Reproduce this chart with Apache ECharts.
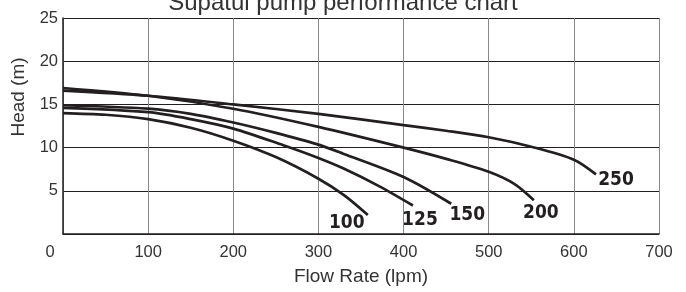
<!DOCTYPE html>
<html>
<head>
<meta charset="utf-8">
<script src="https://cdn.jsdelivr.net/npm/echarts@6/dist/echarts.min.js"></script>
<style>
  html, body { margin: 0; padding: 0; background: #fff; }
  #chart { width: 686px; height: 292px; }
</style>
</head>
<body>
<div id="chart"></div>
<script>
// pump curves: [flow lpm, head m]
var pump100 = [[0, 14.0], [50, 13.8], [100, 13.3], [150, 12.3], [200, 10.8], [250, 8.9], [300, 6.4], [330, 4.5], [358, 2.2]];
var pump125 = [[0, 14.6], [100, 14.1], [150, 13.3], [200, 12.2], [258, 10.3], [300, 8.8], [329, 7.6], [370, 5.6], [411, 3.3]];
var pump150 = [[0, 14.9], [100, 14.5], [150, 13.9], [200, 12.9], [250, 11.7], [298, 10.4], [329, 9.3], [400, 6.6], [456, 3.5]];
var pump200 = [[0, 16.9], [100, 16.0], [200, 14.5], [300, 12.4], [400, 10.0], [450, 8.7], [500, 7.2], [530, 5.8], [553, 3.9]];
var pump250 = [[0, 16.6], [100, 16.0], [200, 15.0], [300, 13.9], [400, 12.6], [450, 11.95], [500, 11.2], [550, 10.1], [600, 8.6], [626, 6.9]];
var curveNames = ['100', '125', '150', '200', '250'];
var curveData = [pump100, pump125, pump150, pump200, pump250];
// where each curve number sits relative to the curve end
var labelOffsets = [[-21, 8], [7, 15], [16, 11], [7, 13], [20, 6]];

var ink = '#231f20';

var series = curveData.map(function (d, i) {
  return {
    name: curveNames[i],
    type: 'line',
    data: d,
    smooth: 0.3,
    symbol: 'none',
    silent: true,
    lineStyle: { color: ink, width: 2.7 },
    endLabel: {
      show: true,
      formatter: curveNames[i],
      distance: 0,
      align: 'center',
      verticalAlign: 'middle',
      offset: labelOffsets[i],
      color: ink,
      fontFamily: '"DejaVu Sans Condensed", "Liberation Sans Narrow", sans-serif',
      fontWeight: 'bold',
      fontSize: 19
    }
  };
});

var chart = echarts.init(document.getElementById('chart'));
chart.setOption({
  animation: false,
  textStyle: { fontFamily: '"Liberation Sans", Arial, sans-serif' },
  title: {
    text: 'Supatul pump performance chart',
    left: 'center',
    top: -14,
    textStyle: { fontSize: 24, fontWeight: 'normal', color: '#333' }
  },
  grid: { left: 63, right: 27, top: 18, bottom: 58 },
  xAxis: {
    type: 'value',
    min: 0,
    max: 700,
    interval: 100,
    name: 'Flow Rate (lpm)',
    nameLocation: 'middle',
    nameGap: 33,
    nameTextStyle: { fontSize: 19, color: '#333' },
    axisLine: { lineStyle: { color: ink, width: 1.5 } },
    axisTick: { show: false },
    axisLabel: {
      fontSize: 16.5,
      color: '#333',
      margin: 10,
      formatter: function (v) { return v === 0 ? '{z|0}' : String(v); },
      rich: { z: { fontSize: 16.5, color: '#333', padding: [0, 26, 0, 0] } }
    },
    splitLine: { show: true, lineStyle: { color: '#888', width: 1 } }
  },
  yAxis: {
    type: 'value',
    min: 0,
    max: 25,
    interval: 5,
    name: 'Head (m)',
    nameLocation: 'middle',
    nameGap: 30,
    nameTextStyle: { fontSize: 19, color: '#333', padding: [0, 0, 0, 58] },
    axisLine: { show: true, lineStyle: { color: ink, width: 1.5 } },
    axisTick: { show: false },
    axisLabel: {
      fontSize: 16.5,
      color: '#333',
      margin: 5,
      formatter: function (v) { return v === 0 ? '' : String(v); }
    },
    splitLine: { show: true, lineStyle: { color: ink, width: 1.2 } }
  },
  series: series
});
</script>
</body>
</html>
